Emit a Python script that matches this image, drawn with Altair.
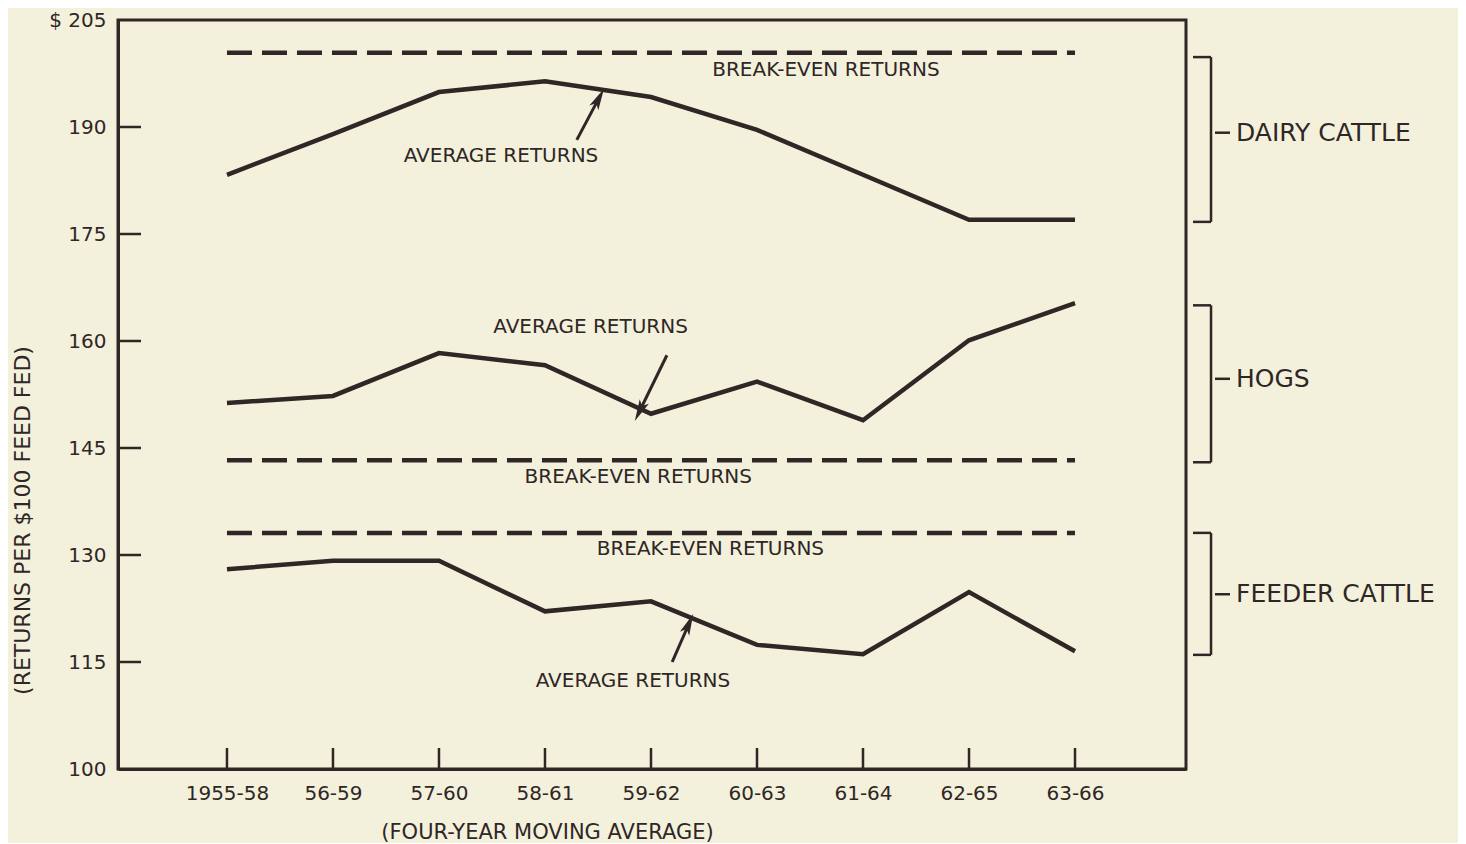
import altair as alt
import pandas as pd
import math

# ---------------- data ----------------
periods = ['1955-58', '56-59', '57-60', '58-61', '59-62', '60-63', '61-64', '62-65', '63-66']
dairy_avg = [183.3, 189.0, 194.9, 196.4, 194.2, 189.6, 183.3, 177.0, 177.0]
hogs_avg = [151.3, 152.3, 158.3, 156.6, 149.8, 154.3, 148.9, 160.1, 165.3]
feeder_avg = [128.0, 129.2, 129.2, 122.1, 123.5, 117.4, 116.1, 124.8, 116.5]
dairy_be = 200.4
hogs_be = 143.3
feeder_be = 133.1

y_ticks = [100, 115, 130, 145, 160, 175, 190, 205]

groups = ['DAIRY CATTLE', 'HOGS', 'FEEDER CATTLE']
group_top = [199.8, 165.0, 133.1]
group_bot = [176.7, 143.0, 116.0]
group_mid = [189.2, 154.7, 124.5]

# annotation texts (x in period index, y in $)
ann_text = ['BREAK-EVEN RETURNS', 'AVERAGE RETURNS', 'AVERAGE RETURNS',
            'BREAK-EVEN RETURNS', 'BREAK-EVEN RETURNS', 'AVERAGE RETURNS']
ann_x = [5.65, 2.585, 3.43, 3.88, 4.56, 3.83]
ann_y = [198.0, 185.9, 162.0, 140.9, 130.8, 112.3]

# arrows: tail -> head
arr_x0 = [3.30, 4.15, 4.20]
arr_y0 = [188.2, 158.0, 115.0]
arr_x1 = [3.50, 3.90, 4.35]
arr_y1 = [193.8, 150.4, 120.1]

# ---------------- layout ----------------
W, H = 1068, 749
x_dom = [-1.028, 9.047]
y_dom = [100, 205]
px_x = W / (x_dom[1] - x_dom[0])
px_y = H / (y_dom[1] - y_dom[0])

bg = '#f3f1dc'
ink = '#2f2626'
font = 'DejaVu Sans'

xs = alt.Scale(domain=x_dom, nice=False, zero=False)
ys = alt.Scale(domain=y_dom, nice=False, zero=False)

label_arr = '[' + ','.join("'" + p + "'" for p in periods) + ']'

rows = []
for name, vals in [('dairy', dairy_avg), ('hogs', hogs_avg), ('feeder', feeder_avg)]:
    for i, v in enumerate(vals):
        rows.append({'series': name, 'x': i, 'y': v})
avg_df = pd.DataFrame(rows)

be_rows = []
for name, v in [('dairy', dairy_be), ('hogs', hogs_be), ('feeder', feeder_be)]:
    be_rows.append({'series': name, 'x': 0, 'y': v})
    be_rows.append({'series': name, 'x': len(periods) - 1, 'y': v})
be_df = pd.DataFrame(be_rows)

x_axis = alt.Axis(values=list(range(len(periods))), labelExpr=label_arr + '[datum.value]',
                  title='(FOUR-YEAR MOVING AVERAGE)', titleX=429, titleY=63,
                  titleBaseline='middle', titleFontWeight='normal', titleFontSize=21,
                  labelPadding=14, labelFontSize=20, grid=False, ticks=False,
                  domainColor=ink, domainWidth=3, labelColor=ink, titleColor=ink)
y_axis = alt.Axis(values=y_ticks, labelExpr="datum.value == 205 ? '$ 205' : datum.value",
                  title='(RETURNS PER $100 FEED FED)', titleX=-96, titleY=500,
                  titleAngle=270, titleBaseline='middle', titleFontWeight='normal', titleFontSize=22,
                  labelPadding=12, labelFontSize=20, grid=False, ticks=False,
                  domainColor=ink, domainWidth=3, labelColor=ink, titleColor=ink)

avg_lines = alt.Chart(avg_df).mark_line(color=ink, strokeWidth=4.5, strokeJoin='miter').encode(
    x=alt.X('x:Q', scale=xs, axis=x_axis),
    y=alt.Y('y:Q', scale=ys, axis=y_axis),
    detail='series:N',
)

be_lines = alt.Chart(be_df).mark_line(color=ink, strokeWidth=4.5, strokeDash=[25, 10]).encode(
    x=alt.X('x:Q', scale=xs),
    y=alt.Y('y:Q', scale=ys),
    detail='series:N',
)

tick_rows = []
for v in y_ticks[1:-1]:
    tick_rows.append({'x': x_dom[0], 'x2': x_dom[0] + 23 / px_x, 'y': v, 'y2': v})
for i in range(len(periods)):
    tick_rows.append({'x': i, 'x2': i, 'y': 100, 'y2': 100 + 21 / px_y})

bx = 9.283
for t, b, m in zip(group_top, group_bot, group_mid):
    tick_rows.append({'x': bx, 'x2': bx, 'y': t, 'y2': b})
    tick_rows.append({'x': bx - 18 / px_x, 'x2': bx, 'y': t, 'y2': t})
    tick_rows.append({'x': bx - 18 / px_x, 'x2': bx, 'y': b, 'y2': b})
    tick_rows.append({'x': bx + 4 / px_x, 'x2': bx + 19 / px_x, 'y': m, 'y2': m})
tick_df = pd.DataFrame(tick_rows)

ticks = alt.Chart(tick_df).mark_rule(color=ink, strokeWidth=2.5).encode(
    x=alt.X('x:Q', scale=xs), x2='x2:Q',
    y=alt.Y('y:Q', scale=ys), y2='y2:Q',
)

grp_df = pd.DataFrame({'label': groups, 'x': [bx + 25 / px_x] * 3, 'y': group_mid})
grp_text = alt.Chart(grp_df).mark_text(align='left', baseline='middle', font=font,
                                       fontSize=25, color=ink).encode(
    x=alt.X('x:Q', scale=xs), y=alt.Y('y:Q', scale=ys), text='label:N')

ann_df = pd.DataFrame({'label': ann_text, 'x': ann_x, 'y': ann_y})
ann = alt.Chart(ann_df).mark_text(align='center', baseline='middle', font=font,
                                  fontSize=20, color=ink).encode(
    x=alt.X('x:Q', scale=xs), y=alt.Y('y:Q', scale=ys), text='label:N')

arr_df = pd.DataFrame({'x': arr_x0, 'y': arr_y0, 'hx': arr_x1, 'hy': arr_y1})
arr_df['angle'] = [
    (math.degrees(math.atan2((x1 - x0) * px_x, (y1 - y0) * px_y)) + 360) % 360
    for x0, y0, x1, y1 in zip(arr_x0, arr_y0, arr_x1, arr_y1)
]
arr_lines = alt.Chart(arr_df).mark_rule(color=ink, strokeWidth=3).encode(
    x=alt.X('x:Q', scale=xs), x2='hx:Q',
    y=alt.Y('y:Q', scale=ys), y2='hy:Q',
)
arr_heads = alt.Chart(arr_df).mark_point(shape='M-0.4,0.7L0,-1L0.4,0.7L0,0.3Z', filled=True,
                                         color=ink, size=650, opacity=1).encode(
    x=alt.X('hx:Q', scale=xs), y=alt.Y('hy:Q', scale=ys),
    angle=alt.Angle('angle:Q', scale=None),
)

chart = alt.layer(be_lines, avg_lines, ticks, grp_text, ann, arr_lines, arr_heads).properties(
    width=W, height=H,
    background=bg,
    padding={'left': 110, 'top': 12, 'right': 272, 'bottom': 74},
    autosize=alt.AutoSizeParams(type='none'),
).configure_view(
    stroke=ink, strokeWidth=3,
).configure_axis(
    labelFont=font, titleFont=font,
)

chart.save('out.html', embed_options={'renderer': 'svg', 'actions': False})
